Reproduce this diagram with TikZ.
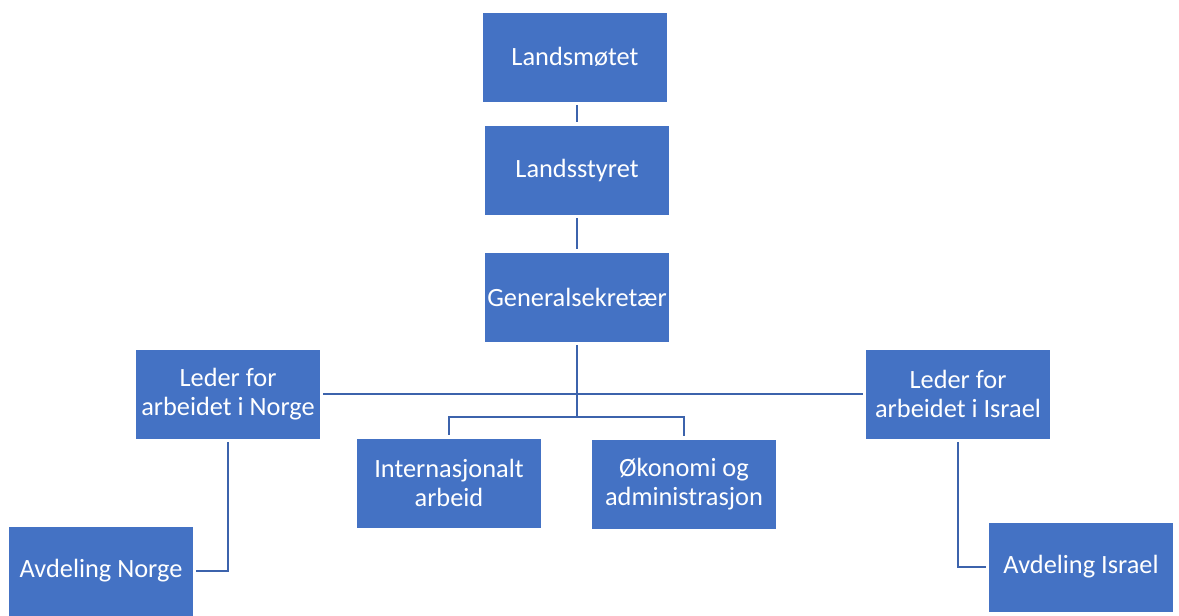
\documentclass[tikz,border=0pt]{standalone}
\usepackage{fontspec}
\setmainfont{Carlito}
\definecolor{boxblue}{HTML}{4472C4}
\definecolor{lineblue}{HTML}{3C63AC}
\tikzset{
  unit/.style={fill=boxblue, draw=white, line width=0.4pt, text=white,
    minimum width=3.7cm, minimum height=1.8cm, align=center, inner sep=0pt,
    outer sep=0.06cm, font=\fontsize{15}{16.7}\selectfont},
  link/.style={draw=lineblue, line width=1.6pt}
}
\begin{document}
\begin{tikzpicture}[x=0.02cm,y=-0.02cm]
  \useasboundingbox (0,0) rectangle (1179,615);

  % Top of the chart
  \node[unit] (moete) at (575,57) {Landsmøtet};
  \node[unit] (styre) at (577,170) {Landsstyret};
  \node[unit] (gensek) at (577,297) {Generalsekretær};

  % Leaders
  \node[unit] (ledNorge) at (228,394) {Leder for\\arbeidet i Norge};
  \node[unit] (ledIsrael) at (958,394) {Leder for\\arbeidet i Israel};

  % Staff units
  \node[unit] (intl) at (449,483) {Internasjonalt\\arbeid};
  \node[unit] (okad) at (684,484) {Økonomi og\\administrasjon};

  % Departments
  \node[unit] (avdNorge) at (101,571) {Avdeling Norge};
  \node[unit] (avdIsrael) at (1081,567) {Avdeling Israel};

  \coordinate (split) at (577,417);

  \draw[link] (moete.south -| styre) -- (styre);
  \draw[link] (styre) -- (gensek);
  \draw[link] (gensek) -- (split);
  \draw[link] (ledNorge) -- (ledIsrael);
  \draw[link] (split) -| (intl);
  \draw[link] (split) -| (okad);
  \draw[link] (ledNorge) |- (avdNorge);
  \draw[link] (ledIsrael) |- (avdIsrael);
\end{tikzpicture}
\end{document}
